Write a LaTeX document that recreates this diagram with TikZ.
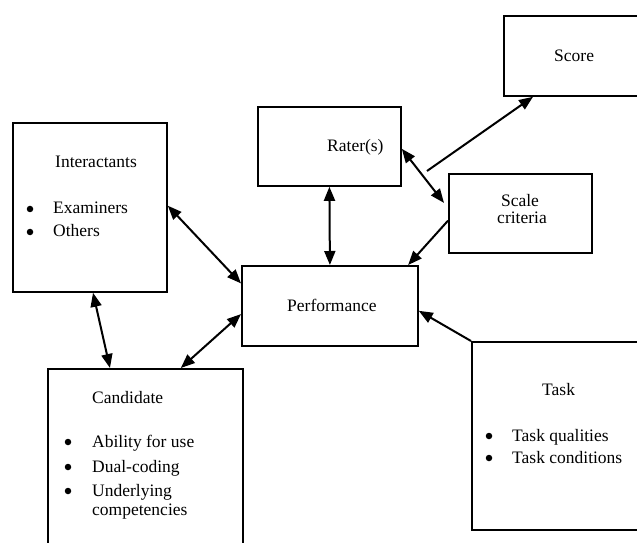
\documentclass[tikz,border=0pt]{standalone}
\usepackage{fontspec}
\setmainfont{Liberation Serif}
\usetikzlibrary{arrows.meta,calc}

\begin{document}
\begin{tikzpicture}[
  x=1bp, y=-1bp,
  every node/.style={font=\fontsize{17.5bp}{17.5bp}\selectfont},
  box/.style={draw, line width=1.8bp, inner sep=0pt, anchor=north west},
  txt/.style={anchor=base west, inner sep=0pt},
  ctxt/.style={anchor=base, inner sep=0pt},
  bul/.style={circle, fill, inner sep=0pt, minimum size=6.5bp},
  tip/.style={Triangle[length=14bp,width=11bp]},
  link/.style={line width=2bp, {Triangle[length=14bp,width=11bp]}-{Triangle[length=14bp,width=11bp]}},
  flow/.style={line width=2bp, -{Triangle[length=14bp,width=11bp]}}
]
\useasboundingbox (0,0) rectangle (637,543);
\clip (0,0) rectangle (637,543);

% boxes
\node[box, minimum width=154bp, minimum height=169bp] (inter) at (12,122) {};
\node[box, minimum width=195bp, minimum height=220bp] (cand) at (47,368) {};
\node[box, minimum width=176bp, minimum height=80bp] (perf) at (241,265) {};
\node[box, minimum width=143bp, minimum height=79bp] (rater) at (257,106) {};
\node[box, minimum width=180bp, minimum height=80bp] (score) at (503,15) {};
\node[box, minimum width=143bp, minimum height=79bp] (scale) at (448,173) {};
\node[box, minimum width=230bp, minimum height=188bp] (task) at (471,341) {};

% texts
\node[txt] (interT) at (55,168) {Interactants};
\node[bul] (b1) at (30,209) {};
\node[txt] (i1) at (53,214) {Examiners};
\node[bul] (b2) at (30,232) {};
\node[txt] (i2) at (53,237) {Others};

\node[txt] (candT) at (92,403) {Candidate};
\node[bul] (b3) at (68,442) {};
\node[txt] (c1) at (92,447) {Ability for use};
\node[bul] (b4) at (68,467) {};
\node[txt] (c2) at (92,472) {Dual-coding};
\node[bul] (b5) at (68,491) {};
\node[txt] (c3) at (92,496) {Underlying};
\node[txt] (c4) at (92,515) {competencies};

\node[txt] (perfT) at (287,311) {Performance};
\node[txt] (raterT) at (327,152) {Rater(s)};
\node[txt] (scoreT) at (554,62) {Score};
\node[ctxt] (scaleT1) at (520,207) {Scale};
\node[ctxt] (scaleT2) at (522,224) {criteria};

\node[txt] (taskT) at (542,395) {Task};
\node[bul] (b6) at (489,436) {};
\node[txt] (t1) at (512,441) {Task qualities};
\node[bul] (b7) at (489,458) {};
\node[txt] (t2) at (512,463) {Task conditions};

% connectors
\draw[link] ($(inter.north east)!0.49!(inter.south east)$) -- ($(perf.north west)!0.225!(perf.south west)$);
\draw[link] ($(inter.south west)!0.52!(inter.south east)$) -- ($(cand.north west)!0.32!(cand.north east)$);
\draw[link] ($(cand.north west)!0.68!(cand.north east)$) -- ($(perf.north west)!0.6!(perf.south west)$);
\draw[link] (rater.south) -- (perf.north);
\draw[link] ($(rater.north east)!0.53!(rater.south east)$) -- ($(scale.north west)!0.37!(scale.south west)+(-4,0)$);
\coordinate (scoreFrom) at (427,171);
\draw[flow] (scoreFrom) -- ($(score.south west)+(30,0)$);
\draw[flow] ($(scale.north west)!0.59!(scale.south west)$) -- ($(perf.north west)!0.94!(perf.north east)$);
\draw[flow] (task.north west) -- ($(perf.north east)!0.56!(perf.south east)$);
\end{tikzpicture}
\end{document}
